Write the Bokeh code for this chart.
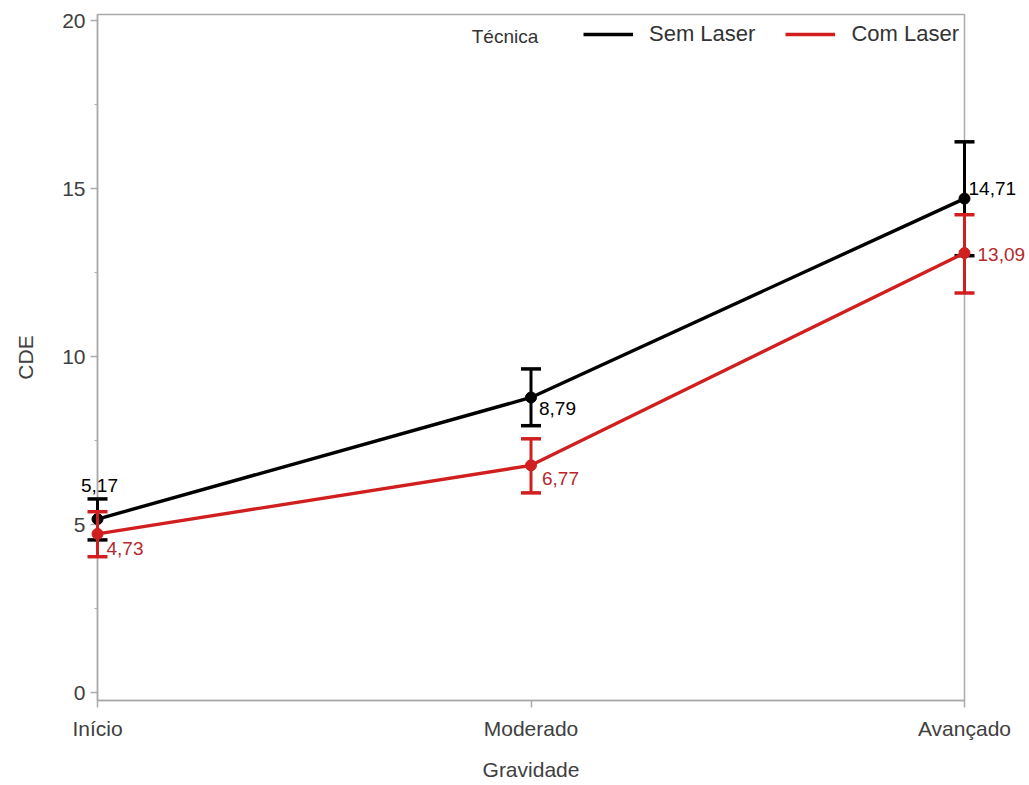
from bokeh.plotting import figure
from bokeh.models import (Range1d, SingleIntervalTicker, FixedTicker, ColumnDataSource,
                          Legend, LegendItem, Label)
from bokeh.embed import file_html
from bokeh.resources import INLINE
from bokeh.core.properties import value

# ---- data ----
categories = ["Início", "Moderado", "Avançado"]
series_names = ["Sem Laser", "Com Laser"]
legend_title = "Técnica"
sem_mean = [5.17, 8.79, 14.71]
sem_lower = [4.55, 7.95, 13.01]
sem_upper = [5.77, 9.64, 16.40]
com_mean = [4.73, 6.77, 13.09]
com_lower = [4.05, 5.95, 11.90]
com_upper = [5.39, 7.56, 14.23]
y_ticks = [0, 5, 10, 15, 20]

FONT = "Liberation Sans"
AXIS_GRAY = "#aaaaaa"
BLACK = "#000000"
RED = "#d11f1f"
RED_TEXT = "#b5282e"

# label placement (style, pixels)
sem_label_style = dict(xo=[2, 8, 4], yo=[-34, 11, -10], align=["center", "left", "left"])
com_label_style = dict(xo=[9, 11, 13], yo=[15, 13, 1], align=["left", "left", "left"])

p = figure(width=1029, height=785, output_backend="svg", toolbar_location=None,
           x_range=Range1d(0, 2), y_range=Range1d(-0.23, 20.19),
           min_border_left=97, min_border_right=65, min_border_top=14, min_border_bottom=85)
p.xgrid.visible = False
p.ygrid.visible = False
p.outline_line_color = AXIS_GRAY
p.outline_line_width = 1.5
p.background_fill_color = "white"
p.border_fill_color = "white"

xs = list(range(len(categories)))

def fmt(v):
    return f"{v:.2f}".replace(".", ",")

legend_items = []
for name, mean, lo, up, color, tcolor, style in [
    (series_names[0], sem_mean, sem_lower, sem_upper, BLACK, BLACK, sem_label_style),
    (series_names[1], com_mean, com_lower, com_upper, RED, RED_TEXT, com_label_style),
]:
    src = ColumnDataSource(dict(x=xs, y=mean, lo=lo, up=up,
                                label=[fmt(v) for v in mean],
                                xo=style["xo"], yo=style["yo"], align=style["align"]))
    ln = p.line("x", "y", source=src, line_color=color, line_width=3.4, level="annotation")
    p.segment(x0="x", y0="lo", x1="x", y1="up", source=src, line_color=color,
              line_width=3, level="annotation")
    p.scatter("x", "lo", source=src, marker="dash", size=20, line_color=color,
              line_width=3.5, level="annotation")
    p.scatter("x", "up", source=src, marker="dash", size=20, line_color=color,
              line_width=3.5, level="annotation")
    p.scatter("x", "y", source=src, marker="circle", size=11, fill_color=color,
              line_color=color, level="annotation")
    p.text("x", "y", text="label", source=src, x_offset="xo", y_offset="yo",
           text_align="align", text_baseline="middle", text_color=tcolor,
           text_font=value(FONT), text_font_size="19px", level="annotation")
    legend_items.append(LegendItem(label=name, renderers=[ln]))

legend = Legend(items=legend_items, location="top_right", orientation="horizontal",
                label_text_font=FONT, label_text_font_size="22px", label_text_color="#333333",
                glyph_width=50, glyph_height=30, label_standoff=16, spacing=30,
                padding=4, margin=5,
                border_line_color=None, background_fill_alpha=0)
p.add_layout(legend)

# legend title, placed to the left of the legend entries (top of the plot area)
title_lbl = Label(x=0.94, y=19.55, text=legend_title, text_font=FONT, text_font_size="19px",
                  text_color="#333333", text_align="center", text_baseline="middle")
p.add_layout(title_lbl)

# x axis
p.xaxis.ticker = FixedTicker(ticks=xs)
p.xaxis.major_label_overrides = {i: c for i, c in enumerate(categories)}
p.xaxis.axis_label = "Gravidade"
# y axis
p.yaxis.ticker = SingleIntervalTicker(interval=5, num_minor_ticks=2)
p.yaxis.axis_label = "CDE"

for ax in (p.xaxis[0], p.yaxis[0]):
    ax.axis_line_color = AXIS_GRAY
    ax.axis_line_width = 1.5
    ax.major_tick_line_color = AXIS_GRAY
    ax.major_tick_line_width = 1.5
    ax.minor_tick_line_color = AXIS_GRAY
    ax.major_tick_in = 0
    ax.major_tick_out = 7
    ax.minor_tick_in = 0
    ax.minor_tick_out = 3
    ax.major_label_text_font = FONT
    ax.major_label_text_font_size = "21px"
    ax.major_label_text_color = "#404040"
    ax.axis_label_text_font = FONT
    ax.axis_label_text_font_size = "21px"
    ax.axis_label_text_font_style = "normal"
    ax.axis_label_text_color = "#404040"

p.xaxis.minor_tick_line_color = None
p.xaxis.major_label_standoff = 9
p.xaxis.axis_label_standoff = 15
p.yaxis.major_label_standoff = 5
p.yaxis.axis_label_standoff = 22
p.yaxis.major_label_orientation = "horizontal"

open("out.html", "w").write(file_html(p, INLINE))
